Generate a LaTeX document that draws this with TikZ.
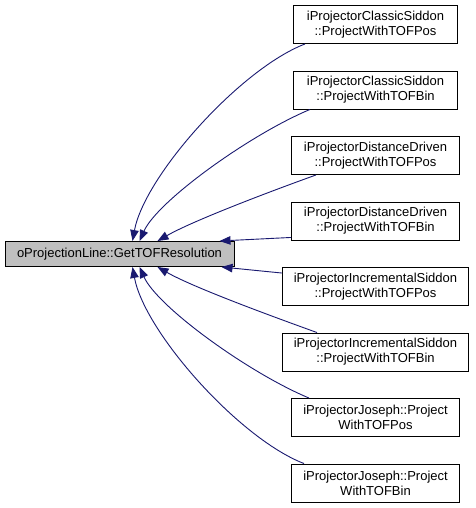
\documentclass[tikz,border=0pt]{standalone}
\usepackage{fontspec}
\setmainfont{Liberation Sans}
\usetikzlibrary{arrows.meta}
\definecolor{edgeblue}{HTML}{191970}
\definecolor{mainfill}{HTML}{BFBFBF}
\begin{document}
\begin{tikzpicture}[x=1pt,y=-1pt,
  box/.style={draw=black, line width=0.9pt, fill=white, align=center, inner sep=0pt,
    minimum height=38pt, font=\fontsize{13}{15}\selectfont},
  mainbox/.style={draw=black, line width=1pt, fill=mainfill, inner sep=0pt,
    minimum width=229pt, minimum height=25pt, font=\fontsize{13}{15}\selectfont},
  edge/.style={draw=edgeblue, line width=0.9pt, -{Triangle[length=11pt,width=8.5pt]}}]
\useasboundingbox (0,0) rectangle (475,508);
\node[mainbox] (main) at (119.5,254) {oProjectionLine::GetTOFResolution};
\node[box, minimum width=164pt] (b1) at (375.5,24.5) {iProjectorClassicSiddon\\::ProjectWithTOFPos};
\node[box, minimum width=164pt] (b2) at (375.5,90) {iProjectorClassicSiddon\\::ProjectWithTOFBin};
\node[box, minimum width=168pt] (b3) at (375.5,155.5) {iProjectorDistanceDriven\\::ProjectWithTOFPos};
\node[box, minimum width=168pt] (b4) at (375.5,221) {iProjectorDistanceDriven\\::ProjectWithTOFBin};
\node[box, minimum width=186pt] (b5) at (375.5,286.5) {iProjectorIncrementalSiddon\\::ProjectWithTOFPos};
\node[box, minimum width=186pt] (b6) at (375.5,352) {iProjectorIncrementalSiddon\\::ProjectWithTOFBin};
\node[box, minimum width=168pt] (b7) at (375.5,417.5) {iProjectorJoseph::Project\\WithTOFPos};
\node[box, minimum width=168pt] (b8) at (375.5,483) {iProjectorJoseph::Project\\WithTOFBin};
\draw[edge] ([xshift=12pt]b1.south west) .. controls +(-65,25) and +(12,-65) .. ([xshift=128pt]main.north west);
\draw[edge] ([xshift=17pt]b2.south west) .. controls +(-60,25) and +(18,-40) .. ([xshift=135pt]main.north west);
\draw[edge] ([xshift=25pt]b3.south west) .. controls +(-50,18) and +(35,-20) .. ([xshift=153pt]main.north west);
\draw[edge] ([yshift=3pt]b4.south west) -- ([xshift=215pt]main.north west);
\draw[edge] ([yshift=-6pt]b5.north west) -- ([xshift=217pt]main.south west);
\draw[edge] ([xshift=35pt]b6.north west) .. controls +(-50,-18) and +(35,20) .. ([xshift=153pt]main.south west);
\draw[edge] ([xshift=18pt]b7.north west) .. controls +(-60,-25) and +(18,40) .. ([xshift=135pt]main.south west);
\draw[edge] ([xshift=13pt]b8.north west) .. controls +(-65,-25) and +(12,65) .. ([xshift=128pt]main.south west);
\end{tikzpicture}
\end{document}
